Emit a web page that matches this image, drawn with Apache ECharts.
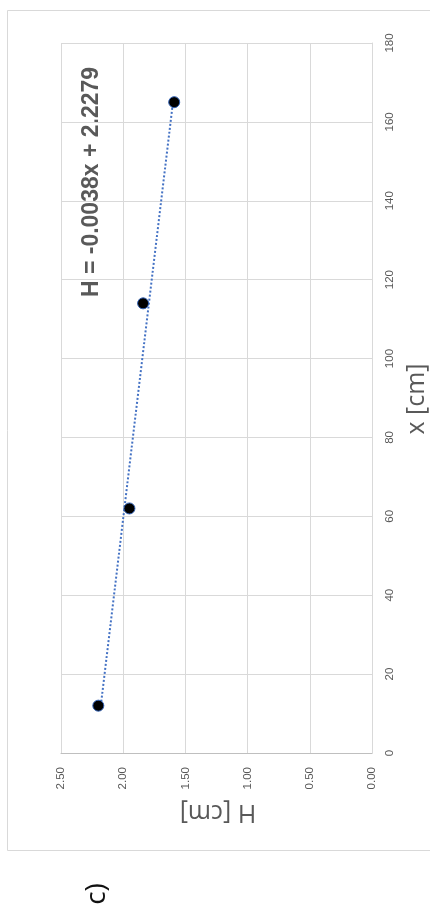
<!DOCTYPE html>
<html>
<head>
<meta charset="utf-8">
<script src="https://cdn.jsdelivr.net/npm/echarts@6/dist/echarts.min.js"></script>
<style>
  html, body { margin: 0; padding: 0; background: #fff; }
  #chart { width: 430px; height: 912px; }
</style>
</head>
<body>
<div id="chart"></div>
<script>
// measured points (the chart is turned 90° counter-clockwise)
const xCm = [12, 62, 114, 165];
const hCm = [2.20, 1.95, 1.84, 1.59];
// trendline ends
const trendX = [12, 165];
const trendH = [2.18, 1.60];
const equationText = "H = -0.0038x + 2.2279";
const xName = "x [cm]";
const hName = "H [cm]";
const panelLabel = "c)";

const chart = echarts.init(document.getElementById("chart"));

const option = {
  backgroundColor: "#fff",
  animation: false,
  grid: { left: 61, right: 58, top: 43, bottom: 159 },
  xAxis: {
    type: "value",
    inverse: true,
    min: 0,
    max: 2.5,
    interval: 0.5,
    position: "bottom",
    axisLine: { show: true, lineStyle: { color: "#bfbfbf", width: 1 } },
    axisTick: { show: false },
    splitLine: { show: true, lineStyle: { color: "#d9d9d9", width: 1 } },
    axisLabel: {
      rotate: 90,
      margin: 14,
      color: "#595959",
      fontSize: 11.5,
      fontFamily: "Liberation Sans",
      formatter: (v) => v.toFixed(2),
    },
  },
  yAxis: {
    type: "value",
    min: 0,
    max: 180,
    interval: 20,
    position: "right",
    axisLine: { show: true, lineStyle: { color: "#d9d9d9", width: 1 } },
    axisTick: { show: false },
    splitLine: { show: true, lineStyle: { color: "#d9d9d9", width: 1 } },
    axisLabel: {
      rotate: 90,
      margin: 12,
      align: "center",
      verticalAlign: "top",
      color: "#595959",
      fontSize: 11.5,
      fontFamily: "Liberation Sans",
    },
  },
  graphic: [
    {
      type: "rect",
      shape: { x: 7.5, y: 10.5, width: 440, height: 840 },
      style: { fill: "none", stroke: "#d9d9d9", lineWidth: 1 },
      silent: true,
    },
    {
      type: "text",
      x: 92,
      y: 182,
      rotation: Math.PI / 2,
      style: {
        text: equationText,
        fill: "#595959",
        font: "bold 23px 'Liberation Sans'",
        textAlign: "center",
        textVerticalAlign: "middle",
      },
    },
    {
      type: "text",
      x: 417,
      y: 399,
      rotation: Math.PI / 2,
      style: {
        text: xName,
        fill: "#595959",
        font: "25px 'Open Sans'",
        textAlign: "center",
        textVerticalAlign: "middle",
      },
    },
    {
      type: "text",
      x: 218,
      y: 812,
      rotation: Math.PI,
      style: {
        text: hName,
        fill: "#595959",
        font: "25px 'Open Sans'",
        textAlign: "center",
        textVerticalAlign: "middle",
      },
    },
    {
      type: "text",
      x: 97,
      y: 894,
      rotation: Math.PI / 2,
      style: {
        text: panelLabel,
        fill: "#111",
        font: "28px 'Open Sans'",
        textAlign: "center",
        textVerticalAlign: "middle",
      },
    },
  ],
  series: [
    {
      name: "trend",
      type: "line",
      data: trendX.map((x, i) => [trendH[i], x]),
      symbol: "none",
      lineStyle: { color: "#4472c4", width: 2, type: [2, 2] },
      z: 2,
    },
    {
      name: "points",
      type: "scatter",
      data: xCm.map((x, i) => [hCm[i], x]),
      symbolSize: 11,
      itemStyle: { color: "#000", opacity: 1, borderColor: "#2f5fb3", borderWidth: 1 },
      z: 3,
    },
  ],
};

chart.setOption(option);
</script>
</body>
</html>
